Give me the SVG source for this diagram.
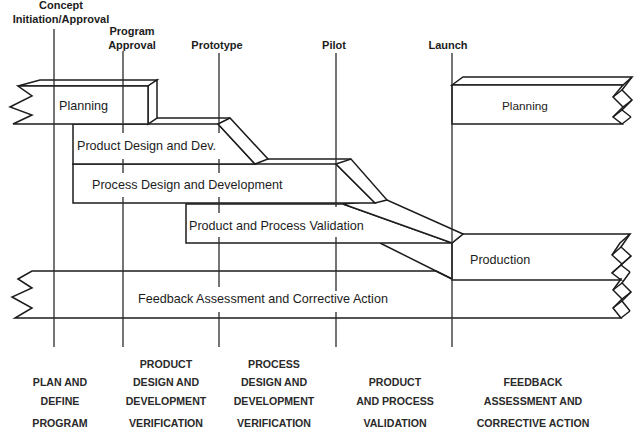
<svg xmlns="http://www.w3.org/2000/svg" width="640" height="437" viewBox="0 0 640 437">
<style>
.bx{fill:#fff;stroke:#1c1c1c;stroke-width:1.5;stroke-linejoin:miter}
.ln{fill:none;stroke:#1c1c1c;stroke-width:1.5}
.ms{fill:none;stroke:#2a2a2a;stroke-width:1.3}
.bg{fill:#fff;stroke:none}
.t{font-family:"Liberation Sans",Arial,sans-serif;font-size:12.6px;fill:#1c1c1c}
.top{font-family:"Liberation Sans",Arial,sans-serif;font-size:11px;font-weight:bold;fill:#1c1c1c;text-anchor:middle}
.bot{font-family:"Liberation Sans",Arial,sans-serif;font-size:10.6px;font-weight:bold;fill:#2a2a2a;text-anchor:middle}
</style>
<rect width="640" height="437" fill="#fff"/>

<g id="feedback">
  <polygon class="bx" points="18,279 32,271 436,271 452,279 621,279 613,290 622,299 613,308 621,318 15,318 32,308 12,297 32,288"/>
  <polyline class="ln" points="630,272 622,283 631,292 622,301 630,311"/>
  <line class="ln" x1="613" y1="290" x2="622" y2="283"/>
  <line class="ln" x1="622" y1="299" x2="631" y2="292"/>
  <line class="ln" x1="613" y1="308" x2="622" y2="301"/>
  <line class="ln" x1="621" y1="318" x2="630" y2="311"/>
</g>

<g id="production">
  <polygon class="bx" points="452,243 463,234 630,234 620,243 612,255 622,264 612,273 621,280 452,280"/>
  <polyline class="ln" points="630,234 621,247 631,256 621,265 630,272"/>
  <line class="ln" x1="612" y1="255" x2="621" y2="247"/>
  <line class="ln" x1="622" y1="264" x2="631" y2="256"/>
  <line class="ln" x1="612" y1="273" x2="621" y2="265"/>
  <line class="ln" x1="380" y1="243" x2="452" y2="279"/>
</g>

<g id="validation">
  <polygon class="bx" points="186,204 343,204 452,243 186,243"/>
  <polygon class="bx" points="343,204 387,200 463,234 452,243"/>
</g>

<g id="process-design">
  <polygon class="bx" points="73,164 336,164 375,203 73,203"/>
  <polygon class="bx" points="336,164 351,159 387,200 375,203"/>
  <line class="ln" x1="268" y1="159" x2="351" y2="159"/>
</g>

<g id="product-design">
  <polygon class="bx" points="73,124 218,124 255,164 73,164"/>
  <polygon class="bx" points="218,124 230,118 268,159 255,164"/>
  <line class="ln" x1="157" y1="118" x2="230" y2="118"/>
</g>

<g id="planning-left">
  <polygon class="bx" points="18,86 40,80 157,80 148,86"/>
  <polygon class="bx" points="148,86 157,80 157,118 148,124"/>
  <polygon class="bx" points="18,86 148,86 148,124 13,124 32,115 10,107 32,96"/>
</g>

<g id="planning-right">
  <polygon class="bx" points="452,85 463,77 632,77 623,85"/>
  <polygon class="bx" points="452,85 623,85 613,97 623,107 613,117 622,124 452,124"/>
  <polyline class="ln" points="632,77 622,90 632,100 622,110 631,117"/>
  <line class="ln" x1="613" y1="97" x2="622" y2="90"/>
  <line class="ln" x1="623" y1="107" x2="632" y2="100"/>
  <line class="ln" x1="613" y1="117" x2="622" y2="110"/>
  <line class="ln" x1="622" y1="124" x2="631" y2="117"/>
</g>

<g id="connectors">
  <line class="ms" x1="54" y1="29" x2="54" y2="347"/>
  <line class="ms" x1="123" y1="51" x2="123" y2="347"/>
  <line class="ms" x1="219" y1="53" x2="219" y2="347"/>
  <line class="ms" x1="336" y1="53" x2="336" y2="347"/>
  <line class="ms" x1="452" y1="53" x2="452" y2="347"/>
</g>

<g id="box-labels">
  <rect class="bg" x="118" y="133" width="10" height="26"/>
  <rect class="bg" x="214" y="133" width="10" height="26"/>
  <rect class="bg" x="118" y="173" width="10" height="24"/>
  <rect class="bg" x="214" y="173" width="10" height="24"/>
  <rect class="bg" x="214" y="213" width="10" height="24"/>
  <rect class="bg" x="331" y="207" width="10" height="30"/>
  <rect class="bg" x="214" y="287" width="10" height="25"/>
  <rect class="bg" x="331" y="291" width="10" height="21"/>
  <text class="t" x="59" y="110">Planning</text>
  <text class="t" x="77" y="150">Product Design and Dev.</text>
  <text class="t" x="92" y="189">Process Design and Development</text>
  <text class="t" x="189" y="230">Product and Process Validation</text>
  <text class="t" x="470" y="264">Production</text>
  <text class="t" x="138" y="303">Feedback Assessment and Corrective Action</text>
  <text class="t" x="502" y="110" style="font-size:11.8px">Planning</text>
</g>

<g id="milestone-labels">
  <text class="top" x="61" y="9">Concept</text>
  <text class="top" x="61" y="23">Initiation/Approval</text>
  <text class="top" x="132" y="35">Program</text>
  <text class="top" x="132" y="49">Approval</text>
  <text class="top" x="217" y="49">Prototype</text>
  <text class="top" x="334" y="49">Pilot</text>
  <text class="top" x="448" y="49">Launch</text>
</g>

<g id="phase-labels">
  <text class="bot" x="60" y="386">PLAN AND</text>
  <text class="bot" x="60" y="405">DEFINE</text>
  <text class="bot" x="60" y="427">PROGRAM</text>
  <text class="bot" x="166" y="368">PRODUCT</text>
  <text class="bot" x="166" y="386">DESIGN AND</text>
  <text class="bot" x="166" y="405">DEVELOPMENT</text>
  <text class="bot" x="166" y="427">VERIFICATION</text>
  <text class="bot" x="274" y="368">PROCESS</text>
  <text class="bot" x="274" y="386">DESIGN AND</text>
  <text class="bot" x="274" y="405">DEVELOPMENT</text>
  <text class="bot" x="274" y="427">VERIFICATION</text>
  <text class="bot" x="395" y="386">PRODUCT</text>
  <text class="bot" x="395" y="405">AND PROCESS</text>
  <text class="bot" x="395" y="427">VALIDATION</text>
  <text class="bot" x="533" y="386">FEEDBACK</text>
  <text class="bot" x="533" y="405">ASSESSMENT AND</text>
  <text class="bot" x="533" y="427">CORRECTIVE ACTION</text>
</g>
</svg>
